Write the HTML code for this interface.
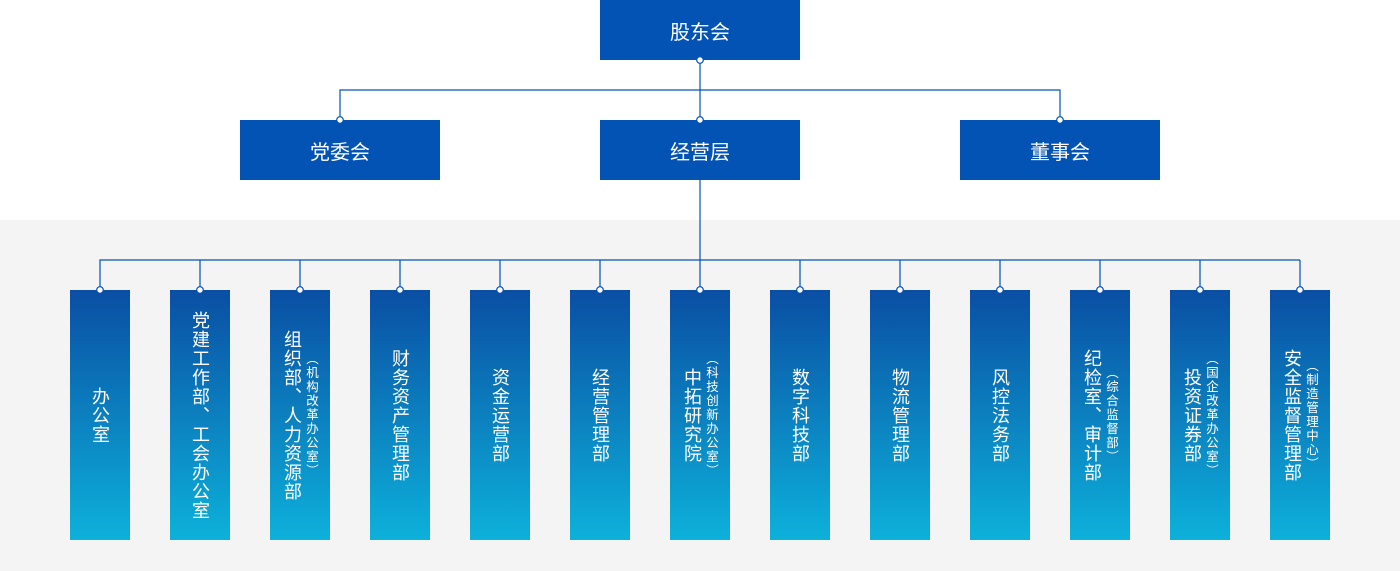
<!DOCTYPE html>
<html><head><meta charset="utf-8"><style>
*{margin:0;padding:0;box-sizing:border-box}
body{width:1400px;height:571px;position:relative;background:#fff;overflow:hidden;font-family:"Liberation Sans","Noto Sans CJK SC",sans-serif}
.gray{position:absolute;left:0;top:220px;width:1400px;height:351px;background:#f4f4f4}
.box{position:absolute;width:200px;height:60px;background:#0353b5;color:#fff;font-size:20px;display:flex;align-items:center;justify-content:center}
.col{position:absolute;top:290px;width:60px;height:250px;background:linear-gradient(#0a4ea3,#0db1da);display:flex;align-items:center;justify-content:center;color:#fff}
.m{writing-mode:vertical-rl;text-orientation:upright;font-size:18px;letter-spacing:1px;line-height:20px}
.s{writing-mode:vertical-rl;text-orientation:upright;font-size:12.5px;letter-spacing:1.5px;line-height:14px;margin-left:2px}
svg{position:absolute;left:0;top:0}
</style></head><body>
<div class="gray"></div>
<div class="box" style="left:600px;top:0">股东会</div>
<div class="box" style="left:240px;top:120px">党委会</div>
<div class="box" style="left:600px;top:120px">经营层</div>
<div class="box" style="left:960px;top:120px">董事会</div>
<div class="col" style="left:70px"><span class="m">办公室</span></div>
<div class="col" style="left:170px"><span class="m">党建工作部、工会办公室</span></div>
<div class="col" style="left:270px"><span class="m">组织部、人力资源部</span><span class="s">（机构改革办公室）</span></div>
<div class="col" style="left:370px"><span class="m">财务资产管理部</span></div>
<div class="col" style="left:470px"><span class="m">资金运营部</span></div>
<div class="col" style="left:570px"><span class="m">经营管理部</span></div>
<div class="col" style="left:670px"><span class="m">中拓研究院</span><span class="s">（科技创新办公室）</span></div>
<div class="col" style="left:770px"><span class="m">数字科技部</span></div>
<div class="col" style="left:870px"><span class="m">物流管理部</span></div>
<div class="col" style="left:970px"><span class="m">风控法务部</span></div>
<div class="col" style="left:1070px"><span class="m">纪检室、审计部</span><span class="s">（综合监督部）</span></div>
<div class="col" style="left:1170px"><span class="m">投资证券部</span><span class="s">（国企改革办公室）</span></div>
<div class="col" style="left:1270px"><span class="m">安全监督管理部</span><span class="s">（制造管理中心）</span></div>
<svg width="1400" height="571">
<g stroke="#0353b5" stroke-width="1.2" fill="none">
<path d="M700 60V120M340 120V90H1060V120M700 180V260M100 290V260H1300"/>
<path d="M200 260V290M300 260V290M400 260V290M500 260V290M600 260V290M700 260V290M800 260V290M900 260V290M1000 260V290M1100 260V290M1200 260V290M1300 260V290"/>
</g>
<g fill="#fff" stroke="#0353b5" stroke-width="1.2">
<circle cx="700" cy="60" r="3.3"/><circle cx="340" cy="120" r="3.3"/><circle cx="700" cy="120" r="3.3"/><circle cx="1060" cy="120" r="3.3"/>
<circle cx="100" cy="290" r="3.3"/><circle cx="200" cy="290" r="3.3"/><circle cx="300" cy="290" r="3.3"/><circle cx="400" cy="290" r="3.3"/><circle cx="500" cy="290" r="3.3"/><circle cx="600" cy="290" r="3.3"/><circle cx="700" cy="290" r="3.3"/><circle cx="800" cy="290" r="3.3"/><circle cx="900" cy="290" r="3.3"/><circle cx="1000" cy="290" r="3.3"/><circle cx="1100" cy="290" r="3.3"/><circle cx="1200" cy="290" r="3.3"/><circle cx="1300" cy="290" r="3.3"/>
</g>
</svg>
</body></html>
